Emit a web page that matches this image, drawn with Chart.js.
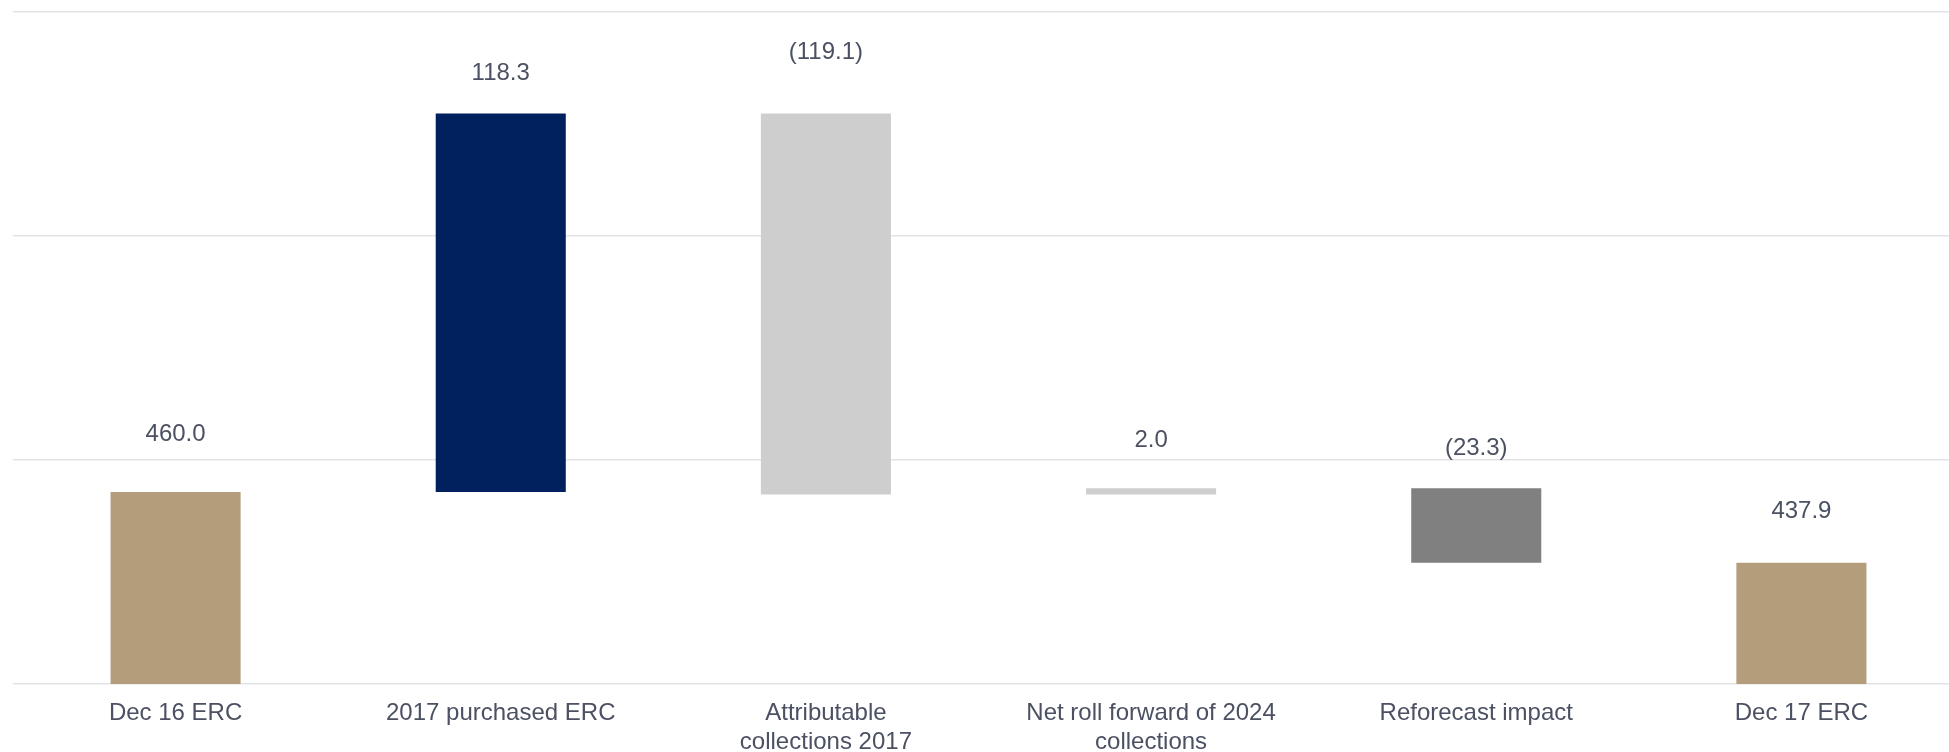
<!DOCTYPE html>
<html lang="en">
  <head>
    <meta charset="utf-8">
    <title>ERC bridge</title>
    <style> body {padding: 0; margin: 0; overflow: hidden; background: #fff;} </style>
    <script src="https://cdn.jsdelivr.net/npm/chart.js@4.4.0/dist/chart.umd.min.js"></script>
  </head>
  <body>
    <canvas id="bridge" width="1964" height="752"></canvas>
    <script>

      // categories and moves (totals are the first and last entries)
      var categories = [
        'Dec 16 ERC',
        '2017 purchased ERC',
        ['Attributable', 'collections 2017'],
        ['Net roll forward of 2024', 'collections'],
        'Reforecast impact',
        'Dec 17 ERC'
      ];
      var moves = [460.0, 118.3, -119.1, 2.0, -23.3, 437.9];
      var isTotal = [true, false, false, false, false, true];
      var barColours = ['#b49d7b', '#00215d', '#cececf', '#cececf', '#808080', '#b49d7b'];

      // build floating [from, to] ranges for the waterfall
      var ranges = [];
      var running = 0;
      for (var i = 0; i < moves.length; i++) {
        if (isTotal[i]) {
          ranges.push([0, moves[i]]);
          running = moves[i];
        } else {
          ranges.push([running, running + moves[i]]);
          running = running + moves[i];
        }
      }

      function fmt(v) {
        return v < 0 ? '(' + Math.abs(v).toFixed(1) + ')' : v.toFixed(1);
      }

      var fontFamily = '"Liberation Sans", Arial, sans-serif';

      // value labels above each bar
      var valueLabels = {
        id: 'valueLabels',
        afterDatasetsDraw: function(chart, args, opts) {
          var ctx = chart.ctx;
          var meta = chart.getDatasetMeta(0);
          ctx.save();
          ctx.font = '24px ' + fontFamily;
          ctx.fillStyle = '#4b5162';
          ctx.textAlign = 'center';
          ctx.textBaseline = 'middle';
          meta.data.forEach(function(bar, idx) {
            var top = Math.min(bar.y, bar.base);
            ctx.fillText(fmt(moves[idx]), bar.x, top - opts.gaps[idx]);
          });
          ctx.restore();
        }
      };

      var ctx = document.getElementById('bridge').getContext('2d');
      var chart = new Chart(ctx, {
        type: 'bar',
        data: {
          labels: categories,
          datasets: [{
            data: ranges,
            backgroundColor: barColours,
            borderWidth: 0,
            barPercentage: 0.4,
            categoryPercentage: 1.0
          }]
        },
        options: {
          responsive: false,
          animation: false,
          layout: { padding: { left: 13, top: 12, right: 0, bottom: 0 } },
          plugins: {
            legend: { display: false },
            tooltip: { enabled: false },
            valueLabels: { gaps: [58, 40, 61, 48, 40, 51] }
          },
          scales: {
            x: {
              grid: { display: false, drawTicks: false },
              border: { display: false },
              afterFit: function(scale) { scale.height = 68; },
              ticks: {
                color: '#4b5162',
                padding: 15,
                maxRotation: 0,
                font: { family: fontFamily, size: 24, lineHeight: 1.2 }
              }
            },
            y: {
              min: 400,
              max: 610,
              border: { display: false },
              grid: { color: '#e2e3e6', lineWidth: 1.5, drawTicks: false },
              ticks: { display: false, stepSize: 70 }
            }
          }
        },
        plugins: [valueLabels]
      });
    </script>
  </body>
</html>
